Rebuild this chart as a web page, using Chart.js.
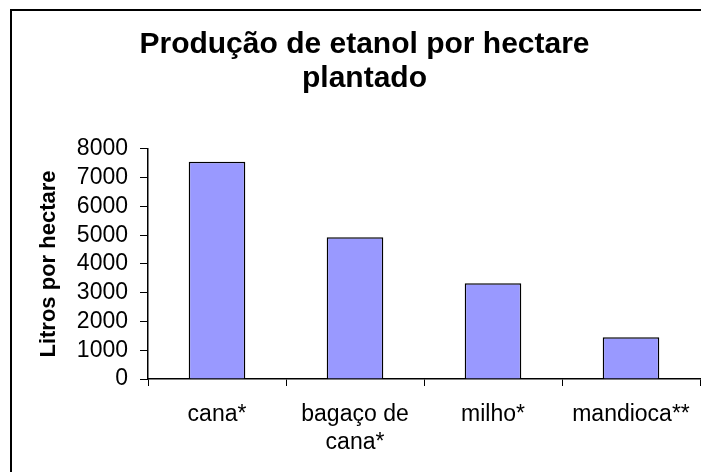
<!DOCTYPE html>
<html>
<head>
<meta charset="utf-8">
<script src="https://cdn.jsdelivr.net/npm/chart.js@4"></script>
<style>
  html, body { margin: 0; padding: 0; background: #fff; }
  #c { display: block; }
</style>
</head>
<body>
<canvas id="c" width="701" height="472"></canvas>
<script>
const categories = ['cana*', ['bagaço de', 'cana*'], 'milho*', 'mandioca**'];
const values = [7560, 4930, 3330, 1450];
const titleLines = ['Produção de etanol por hectare', 'plantado'];
const yAxisTitle = 'Litros por hectare';
const yMin = 0, yMax = 8000, yStep = 1000;

const FONT = '"Liberation Sans", Arial, Helvetica, sans-serif';

const frame = {
  id: 'frame',
  afterDraw(chart) {
    const ctx = chart.ctx;
    ctx.save();
    ctx.strokeStyle = '#000';
    ctx.lineWidth = 2;
    ctx.strokeRect(11, 10, 800, 600);
    ctx.restore();
  }
};

new Chart(document.getElementById('c'), {
  type: 'bar',
  data: {
    labels: categories,
    datasets: [{
      data: values,
      backgroundColor: '#9999FF',
      borderColor: '#000',
      borderWidth: 1.5,
      barPercentage: 0.41,
      categoryPercentage: 1.0
    }]
  },
  options: {
    responsive: false,
    animation: false,
    layout: { padding: { left: 29, right: 1, top: 0, bottom: 0 } },
    plugins: {
      legend: { display: false },
      tooltip: { enabled: false },
      title: {
        display: true,
        text: titleLines,
        color: '#000',
        font: { family: FONT, size: 30, weight: 'bold', lineHeight: 1.133 },
        padding: { top: 28, bottom: 53 }
      }
    },
    scales: {
      x: {
        grid: {
          display: true,
          drawOnChartArea: false,
          drawTicks: true,
          tickLength: 7,
          color: '#000',
          offset: true
        },
        border: { display: true, color: '#000', width: 1.5 },
        ticks: {
          color: '#000',
          font: { family: FONT, size: 23, lineHeight: 1.2 },
          padding: 15,
          maxRotation: 0,
          autoSkip: false
        },
        afterFit(scale) {
          scale.height = 93;
          scale.paddingLeft = 0;
          scale.paddingRight = 0;
        }
      },
      y: {
        min: yMin,
        max: yMax,
        grid: {
          display: true,
          drawOnChartArea: false,
          drawTicks: true,
          tickLength: 8,
          color: '#000'
        },
        border: { display: true, color: '#000', width: 1.5 },
        ticks: {
          stepSize: yStep,
          autoSkip: false,
          color: '#000',
          font: { family: FONT, size: 23 },
          padding: 12,
          callback: (v) => String(v)
        },
        title: {
          display: true,
          text: yAxisTitle,
          color: '#000',
          font: { family: FONT, size: 22, weight: 'bold', lineHeight: 1.2 },
          padding: { top: 7, bottom: 0 }
        },
        afterFit(scale) { scale.width = 119; }
      }
    }
  },
  plugins: [frame]
});
</script>
</body>
</html>
